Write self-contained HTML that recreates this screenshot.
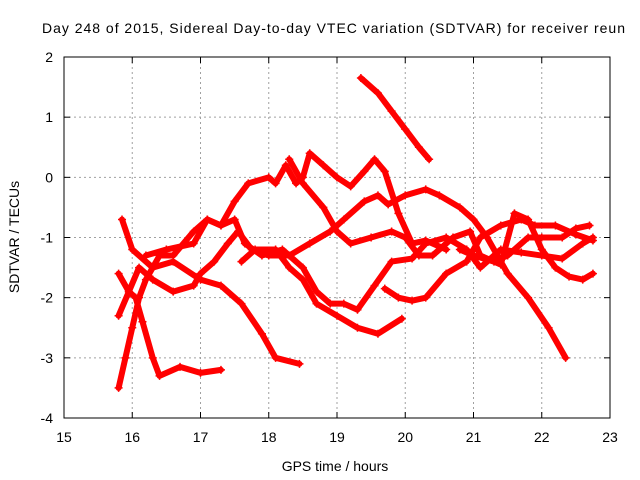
<!DOCTYPE html>
<html><head><meta charset="utf-8"><style>
body{margin:0;background:#fff}
svg{display:block;font-family:"Liberation Sans",sans-serif}
</style></head><body>
<svg id="chart" width="640" height="480" xmlns="http://www.w3.org/2000/svg">
<text x="42" y="33" font-size="14" textLength="583" lengthAdjust="spacing">Day 248 of 2015, Sidereal Day-to-day VTEC variation (SDTVAR) for receiver reun</text>
<g id="grid"></g>
<g id="series"></g>
<rect x="64" y="57" width="546" height="361" fill="none" stroke="#000" stroke-width="1"/>
<g id="axes"></g>
<text x="335" y="471" font-size="14" text-anchor="middle">GPS time / hours</text>
<text transform="translate(19,237) rotate(-90)" font-size="14" text-anchor="middle">SDTVAR / TECUs</text>
</svg>
<script>
const xTicks=[15,16,17,18,19,20,21,22,23];
const yTicks=[2,1,0,-1,-2,-3,-4];
const s1=[[15.8,-3.5],[15.9,-3.0],[16.0,-2.5],[16.1,-2.0],[16.2,-1.7],[16.4,-1.3],[16.6,-1.3],[16.9,-0.9],[17.1,-0.7],[17.3,-0.8],[17.5,-0.4],[17.7,-0.1],[18.0,0.0],[18.1,-0.1],[18.25,0.2],[18.4,-0.1],[18.5,0.0],[18.6,0.4],[18.8,0.2],[19.0,0.0],[19.2,-0.15],[19.4,0.1],[19.55,0.3],[19.7,0.1],[19.9,-0.6],[20.1,-1.1],[20.3,-1.05],[20.6,-1.2]];
const s2=[[15.85,-0.7],[16.0,-1.2],[16.3,-1.5],[16.6,-1.4],[17.0,-1.7],[17.3,-1.8],[17.6,-2.1],[17.9,-2.6],[18.1,-3.0],[18.45,-3.1]];
const s3=[[15.8,-1.6],[15.95,-1.9],[16.05,-2.0],[16.15,-2.4],[16.3,-3.0],[16.4,-3.3],[16.7,-3.15],[17.0,-3.25],[17.3,-3.2]];
const s4=[[15.8,-2.3],[15.95,-1.9],[16.1,-1.5],[16.3,-1.7],[16.6,-1.9],[16.9,-1.8],[17.0,-1.6],[17.2,-1.4],[17.4,-1.1],[17.55,-0.9],[17.75,-1.2],[18.0,-1.3],[18.3,-1.3],[18.6,-1.1],[18.9,-0.9],[19.1,-0.7],[19.4,-0.4],[19.6,-0.3],[19.75,-0.45],[20.0,-0.3],[20.3,-0.2],[20.5,-0.3],[20.8,-0.5],[21.0,-0.7],[21.2,-1.0],[21.5,-1.6],[21.8,-2.0],[22.1,-2.5],[22.35,-3.0]];
const s5=[[16.2,-1.3],[16.5,-1.2],[16.9,-1.1],[17.1,-0.7],[17.3,-0.8],[17.5,-0.7],[17.65,-1.1],[17.9,-1.3],[18.2,-1.2],[18.5,-1.5],[18.7,-1.9],[18.9,-2.1],[19.1,-2.1],[19.3,-2.2],[19.55,-1.8],[19.8,-1.4],[20.1,-1.35],[20.3,-1.1],[20.6,-1.0],[20.9,-1.2],[21.1,-1.5],[21.4,-1.2],[21.7,-1.25],[22.0,-1.3],[22.3,-1.35],[22.6,-1.1],[22.75,-1.0]];
const s6=[[17.6,-1.4],[17.8,-1.2],[18.1,-1.2],[18.3,-1.5],[18.5,-1.7],[18.7,-2.1],[19.0,-2.3],[19.3,-2.5],[19.6,-2.6],[19.95,-2.35]];
const s7=[[19.35,1.65],[19.6,1.4],[19.8,1.1],[20.0,0.8],[20.2,0.5],[20.35,0.3]];
const s8=[[19.7,-1.85],[19.9,-2.0],[20.1,-2.05],[20.3,-2.0],[20.6,-1.6],[20.9,-1.4],[21.1,-1.0],[21.4,-0.8],[21.7,-0.7],[21.9,-0.8],[22.2,-0.8],[22.5,-0.95],[22.75,-1.05]];
const s9=[[18.3,0.3],[18.5,-0.1],[18.8,-0.5],[19.0,-0.9],[19.2,-1.1],[19.5,-1.0],[19.8,-0.9],[20.0,-1.0],[20.2,-1.3],[20.4,-1.3],[20.7,-1.0],[20.95,-0.9],[21.1,-1.3],[21.4,-1.45],[21.6,-0.6],[21.8,-0.7],[22.0,-1.2],[22.2,-1.5],[22.4,-1.65],[22.6,-1.7],[22.75,-1.6]];
const s10=[[20.8,-1.2],[21.0,-1.3],[21.3,-1.4],[21.5,-1.3],[21.8,-1.0],[22.0,-1.0],[22.3,-1.0],[22.5,-0.85],[22.7,-0.8]];
const allSeries=[s1,s2,s3,s4,s5,s6,s7,s8,s9,s10];
const NS="http://www.w3.org/2000/svg";
const X=v=>64+(v-15)*546/8;
const Y=v=>57+(2-v)*361/6;
function mk(t,a,parent){const e=document.createElementNS(NS,t);for(const k in a)e.setAttribute(k,a[k]);parent.appendChild(e);return e;}
const grid=document.getElementById('grid'),axes=document.getElementById('axes'),ser=document.getElementById('series');
xTicks.forEach(t=>{const x=X(t);
 if(t>15&&t<23){const g=mk('line',{x1:x,x2:x,y1:57,y2:418,stroke:'#a0a0a0','stroke-dasharray':'2,3'},grid);
 
 }
 mk('line',{x1:x,x2:x,y1:418,y2:412,stroke:'#000'},axes);
 mk('line',{x1:x,x2:x,y1:57,y2:63,stroke:'#000'},axes);
 const l=mk('text',{x:x,y:442,'font-size':14,'text-anchor':'middle'},axes);l.textContent=t;
 
 
});
yTicks.forEach(t=>{const y=Y(t);
 if(t<2&&t>-4){const g=mk('line',{x1:64,x2:610,y1:y,y2:y,stroke:'#a0a0a0','stroke-dasharray':'2,3'},grid);
 
 }
 mk('line',{x1:64,x2:70,y1:y,y2:y,stroke:'#000'},axes);
 mk('line',{x1:604,x2:610,y1:y,y2:y,stroke:'#000'},axes);
 const l=mk('text',{x:53,y:y+5,'font-size':14,'text-anchor':'end'},axes);l.textContent=t;
 
 
});
allSeries.forEach((s,i)=>{
 const p=mk('polyline',{points:s.map(d=>X(d[0])+','+Y(d[1])).join(' '),fill:'none',stroke:'#f00','stroke-width':6,'stroke-linejoin':'round','stroke-linecap':'round'},ser);
 
 
 s.forEach(d=>{const x=X(d[0]),y=Y(d[1]);
  const m=mk('path',{d:`M${x-4},${y}h8M${x},${y-4}v8`,stroke:'#f00','stroke-width':1.5},ser);
  
  
 });
});
</script>
</body></html>
